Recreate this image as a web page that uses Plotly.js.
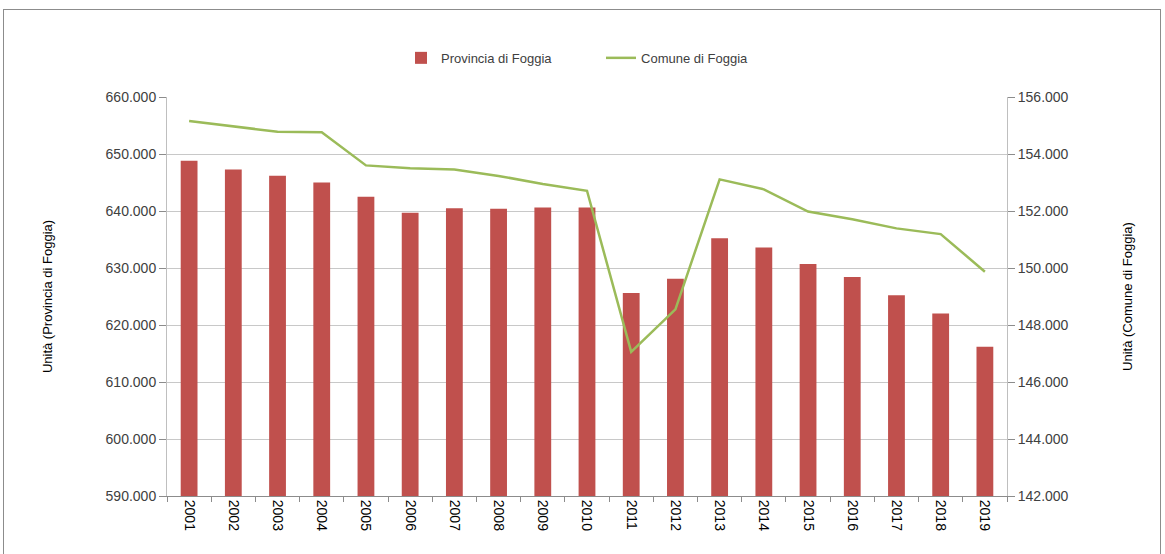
<!DOCTYPE html>
<html>
<head>
<meta charset="utf-8">
<script src="https://cdn.plot.ly/plotly-3.0.1.min.js"></script>
<style>
  html, body { margin: 0; padding: 0; background: #fff; }
  #wrap { position: relative; width: 1165px; height: 554px; }
  #chart { width: 1165px; height: 554px; }
  #frame { position: absolute; left: 3px; top: 9px; width: 1156px; height: 560px; border: 1px solid #8c8c8c; pointer-events: none; }
</style>
</head>
<body>
<div id="wrap">
  <div id="chart"></div>
  <div id="frame"></div>
</div>
<script>
const years = ["2001","2002","2003","2004","2005","2006","2007","2008","2009","2010",
               "2011","2012","2013","2014","2015","2016","2017","2018","2019"];
const provincia = [648800, 647300, 646200, 645000, 642500, 639700, 640500, 640400, 640600, 640600,
                   625600, 628100, 635200, 633600, 630700, 628400, 625200, 622000, 616200];
const comune = [155160, 154960, 154780, 154760, 153600, 153500, 153460, 153230, 152950, 152710,
                147060, 148550, 153110, 152760, 151980, 151710, 151390, 151190, 149870];
const leftTicks = [590000, 600000, 610000, 620000, 630000, 640000, 650000, 660000];
const rightTicks = [142000, 144000, 146000, 148000, 150000, 152000, 154000, 156000];

const fontFam = "'Liberation Sans', Arial, sans-serif";

const traces = [
  {
    type: 'bar', name: 'Provincia di Foggia', x: years, y: provincia,
    marker: { color: '#C0504D' }, yaxis: 'y'
  },
  {
    type: 'scatter', mode: 'lines', name: 'Comune di Foggia', x: years, y: comune,
    line: { color: '#9BBB59', width: 2.5 }, yaxis: 'y2'
  }
];

const layout = {
  width: 1165, height: 554,
  margin: { l: 167, r: 158, t: 97, b: 58 },
  paper_bgcolor: '#ffffff', plot_bgcolor: '#ffffff',
  separators: ',.',
  font: { family: fontFam, size: 13, color: '#404040' },
  bargap: 0.62,
  showlegend: true,
  legend: {
    orientation: 'h', x: 0.2786, xanchor: 'left', xref: 'paper',
    y: 1.098, yanchor: 'middle', yref: 'paper',
    entrywidth: 155, entrywidthmode: 'pixels',
    font: { family: fontFam, size: 13, color: '#404040' },
    traceorder: 'normal'
  },
  xaxis: {
    type: 'category', tickangle: 90, tickson: 'boundaries',
    ticks: 'outside', ticklen: 5, tickcolor: '#8c8c8c',
    showline: true, linecolor: '#8c8c8c', linewidth: 1,
    showgrid: false, zeroline: false,
    tickfont: { family: fontFam, size: 14, color: '#000000' }
  },
  yaxis: {
    range: [590000, 660000], tickvals: leftTicks, tickformat: ',.0f',
    ticks: 'outside', ticklen: 7, tickcolor: '#8c8c8c',
    showline: true, linecolor: '#bfbfbf', linewidth: 1,
    showgrid: true, gridcolor: '#c8c8c8', gridwidth: 1, zeroline: false,
    tickfont: { family: fontFam, size: 14, color: '#404040' },
    title: { text: 'Unità (Provincia di Foggia)', standoff: 50, font: { family: fontFam, size: 13, color: '#000000' } }
  },
  yaxis2: {
    overlaying: 'y', side: 'right',
    range: [142000, 156000], tickvals: rightTicks, tickformat: ',.0f',
    ticks: 'outside', ticklen: 7, tickcolor: '#8c8c8c',
    showline: true, linecolor: '#bfbfbf', linewidth: 1,
    showgrid: false, zeroline: false,
    tickfont: { family: fontFam, size: 14, color: '#404040' },
    title: { text: 'Unità (Comune di Foggia)', standoff: 55, font: { family: fontFam, size: 13, color: '#000000' } }
  }
};

Plotly.newPlot('chart', traces, layout, { staticPlot: true, displayModeBar: false });
</script>
</body>
</html>
